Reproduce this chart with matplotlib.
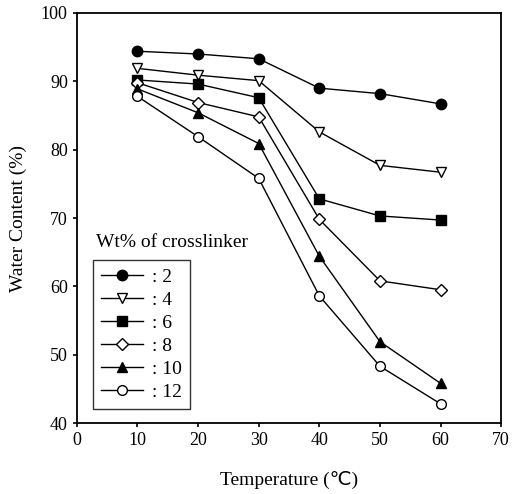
import matplotlib
matplotlib.use("Agg")
import matplotlib.pyplot as plt

plt.rcParams['font.family'] = ['Liberation Serif', 'DejaVu Sans']

temps = [10, 20, 30, 40, 50, 60]
wt2 = [94.4, 94.0, 93.3, 89.0, 88.2, 86.7]
wt4 = [91.9, 90.9, 90.1, 82.6, 77.7, 76.7]
wt6 = [90.2, 89.6, 87.6, 72.8, 70.3, 69.7]
wt8 = [89.8, 86.9, 84.8, 69.8, 60.8, 59.5]
wt10 = [88.9, 85.4, 80.9, 64.4, 51.9, 45.8]
wt12 = [87.8, 81.9, 75.8, 58.6, 48.3, 42.8]
labels = [': 2', ': 4', ': 6', ': 8', ': 10', ': 12']

series = [wt2, wt4, wt6, wt8, wt10, wt12]
styles = [
    dict(marker='o', mfc='black', mec='black', ms=7.5),
    dict(marker='v', mfc='white', mec='black', ms=7.5),
    dict(marker='s', mfc='black', mec='black', ms=6.5),
    dict(marker='D', mfc='white', mec='black', ms=6),
    dict(marker='^', mfc='black', mec='black', ms=7.5),
    dict(marker='o', mfc='white', mec='black', ms=7),
]

fig = plt.figure(figsize=(5.12, 4.94), dpi=100)
ax = fig.add_axes([0.150, 0.1437, 0.829, 0.830])

handles = []
for ys, st, lab in zip(series, styles, labels):
    h, = ax.plot(temps, ys, color='black', lw=1.0, mew=1.0, label=lab, **st)
    handles.append(h)

ax.set_xlim(0, 70)
ax.set_ylim(40, 100)
ax.set_xticks(range(0, 71, 10))
ax.set_yticks(range(40, 101, 10))
ax.tick_params(direction='out', length=3, width=1.2, labelsize=13)
for s in ax.spines.values():
    s.set_linewidth(1.3)

ax.set_xlabel('Temperature (℃)', fontsize=14, labelpad=16)
ax.set_ylabel('Water Content (%)', fontsize=14, labelpad=10)

leg = ax.legend(handles=handles, loc='lower left', bbox_to_anchor=(0.038, 0.035),
                frameon=True, fancybox=False, edgecolor='black', fontsize=14,
                handlelength=2.2, handletextpad=0.45, labelspacing=0.28,
                borderpad=0.4, borderaxespad=0)
leg.get_frame().set_linewidth(1.0)
ax.text(0.045, 0.42, 'Wt% of crosslinker', transform=ax.transAxes,
        fontsize=14, ha='left', va='bottom')

fig.savefig('out.png', dpi=100)
